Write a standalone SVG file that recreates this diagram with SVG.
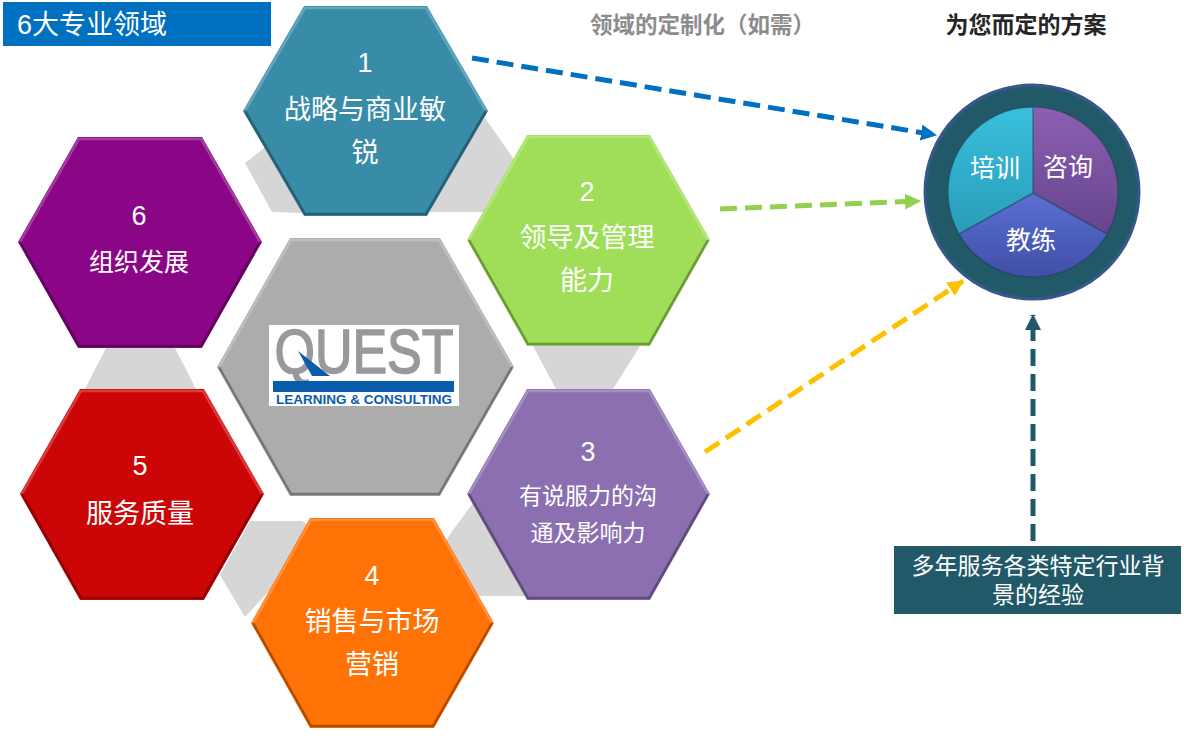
<svg xmlns="http://www.w3.org/2000/svg" width="1184" height="736" viewBox="0 0 1184 736">
<style>
text{font-family:"Liberation Sans","Noto Sans CJK SC",sans-serif;fill:#fff;text-anchor:middle}
.n{font-size:27px}.l{font-size:27px}.m{font-size:23px}.s{font-size:25px}
.hi{fill:none;stroke:#fff;stroke-opacity:.22;stroke-width:2.5;filter:url(#soft)}
.lo{fill:none;stroke:#000;stroke-opacity:.32;stroke-width:2.5;filter:url(#soft)}
.gray{fill:#d6d6d6}
.dash{fill:none;stroke-width:5;stroke-dasharray:17 8}
</style>
<defs>
<filter id="soft" x="-5%" y="-5%" width="110%" height="110%"><feGaussianBlur stdDeviation="0.7"/></filter>
<linearGradient id="gc" x1="0" y1="0" x2="0" y2="1"><stop offset="0" stop-color="#38c0de"/><stop offset="1" stop-color="#2a9cb8"/></linearGradient>
<linearGradient id="gp" x1="0" y1="0" x2="0" y2="1"><stop offset="0" stop-color="#8c60b2"/><stop offset="1" stop-color="#66448c"/></linearGradient>
<linearGradient id="gb" x1="0" y1="0" x2="0" y2="1"><stop offset="0" stop-color="#5a70d4"/><stop offset="1" stop-color="#404ea6"/></linearGradient>
<marker id="ab" markerUnits="userSpaceOnUse" markerWidth="16" markerHeight="16" refX="15" refY="8" orient="auto"><path d="M0 0L16 8L0 16Z" fill="#0070c0"/></marker>
<marker id="ag" markerUnits="userSpaceOnUse" markerWidth="16" markerHeight="16" refX="15" refY="8" orient="auto"><path d="M0 0L16 8L0 16Z" fill="#92d050"/></marker>
<marker id="ay" markerUnits="userSpaceOnUse" markerWidth="16" markerHeight="16" refX="15" refY="8" orient="auto"><path d="M0 0L16 8L0 16Z" fill="#ffc000"/></marker>
<marker id="at" markerUnits="userSpaceOnUse" markerWidth="16" markerHeight="16" refX="15" refY="8" orient="auto"><path d="M0 0L16 8L0 16Z" fill="#215968"/></marker>
</defs>
<rect width="1184" height="736" fill="#fff"/>
<g id="links-gray">
<polygon class="gray" points="245,163 272,212 330,214 300,120"/>
<polygon class="gray" points="485,118 518,165 490,212 430,212 430,150"/>
<polygon class="gray" points="533,346 640,346 613,389 556,389"/>
<polygon class="gray" points="106,348 175,348 196,389 85,389"/>
<polygon class="gray" points="250,521 302,521 320,535 245,617 220,575"/>
<polygon class="gray" points="448,537 473,503 525,596 470,596 440,560"/>
</g>
<g id="title"><rect x="3" y="2" width="268" height="44" fill="#0070c0"/><text x="92" y="34" style="font-size:27px">6大专业领域</text></g>
<g id="hex-1"><polygon points="304,6 427,6 488,111 427,216 304,216 243,111" fill="#388ca8"/><polyline class="hi" points="245,111 305,8 426,8 486,111"/><polyline class="lo" points="245,111 305,214 426,214 486,111"/><text class="n" x="365" y="72">1</text><text class="l" x="365" y="119">战略与商业敏</text><text class="l" x="365" y="162">锐</text></g>
<g id="hex-2"><polygon points="527,135 650,135 710,240 650,346 527,346 467,240" fill="#a0de5a"/><polyline class="hi" points="469,240 528,137 649,137 708,240"/><polyline class="lo" points="469,240 528,344 649,344 708,240"/><text class="n" x="587" y="201">2</text><text class="l" x="587" y="247">领导及管理</text><text class="l" x="587" y="290">能力</text></g>
<g id="hex-3"><polygon points="527,389 650,389 710,494 650,600 527,600 467,494" fill="#8b6fb0"/><polyline class="hi" points="469,494 528,391 649,391 708,494"/><polyline class="lo" points="469,494 528,598 649,598 708,494"/><text class="n" x="588" y="461">3</text><text class="m" x="588" y="504">有说服力的沟</text><text class="m" x="588" y="541">通及影响力</text></g>
<g id="hex-4"><polygon points="310,518 434,518 494,623 434,728 310,728 251,623" fill="#ff7206"/><polyline class="hi" points="253,623 311,520 433,520 492,623"/><polyline class="lo" points="253,623 311,726 433,726 492,623"/><text class="n" x="372" y="585">4</text><text class="l" x="372" y="631">销售与市场</text><text class="l" x="372" y="674">营销</text></g>
<g id="hex-5"><polygon points="80,389 204,389 264,494 204,600 80,600 20,494" fill="#cc0606"/><polyline class="hi" points="22,494 81,391 203,391 262,494"/><polyline class="lo" points="22,494 81,598 203,598 262,494"/><text class="n" x="140" y="475">5</text><text class="l" x="140" y="523">服务质量</text></g>
<g id="hex-6"><polygon points="78,137 202,137 262,242 202,348 78,348 18,242" fill="#8a0686"/><polyline class="hi" points="20,242 79,139 201,139 260,242"/><polyline class="lo" points="20,242 79,346 201,346 260,242"/><text class="n" x="139" y="225">6</text><text class="s" x="139" y="271">组织发展</text></g>
<g id="hex-center"><polygon points="290,238 440,238 514,367 440,496 290,496 217,367" fill="#acacac"/><polyline class="hi" points="219,367 291,240 439,240 512,367"/><polyline class="lo" points="219,367 291,494 439,494 512,367"/>
<rect x="269" y="325" width="190" height="81" fill="#fff"/>
<text x="364" y="373" textLength="179" lengthAdjust="spacingAndGlyphs" style="font-size:63px;fill:#97999c;stroke:#97999c;stroke-width:1.6">QUEST</text>
<polygon points="298,351 330,376 312,376" fill="#0a5cad"/>
<rect x="273" y="381" width="181" height="11" fill="#0a5cad"/>
<text x="364" y="404" textLength="176" lengthAdjust="spacingAndGlyphs" style="font-size:13px;font-weight:bold;fill:#0a5cad">LEARNING &amp; CONSULTING</text></g>
<g id="connectors">
<line class="dash" x1="472" y1="58" x2="936" y2="135" stroke="#0070c0" marker-end="url(#ab)"/>
<line class="dash" x1="720" y1="209" x2="920" y2="201" stroke="#92d050" marker-end="url(#ag)"/>
<line class="dash" x1="705" y1="452" x2="963" y2="281" stroke="#ffc000" marker-end="url(#ay)"/>
<line class="dash" x1="1033" y1="541" x2="1033" y2="315" stroke="#215968" marker-end="url(#at)"/>
</g>
<g id="heading-1"><text x="590" y="33" style="font-size:22.5px;font-weight:bold;fill:#8c8c8c;text-anchor:start">领域的定制化（如需）</text></g>
<g id="heading-2"><text x="1026" y="33" style="font-size:23px;font-weight:bold;fill:#262626">为您而定的方案</text></g>
<g id="solution">
<circle cx="1032" cy="192" r="107" fill="#215968" stroke="#37588c" stroke-width="3"/>
<path d="M1033 193L959 234A85 85 0 0 1 1033 107Z" fill="url(#gc)"/>
<path d="M1033 193V107A85 85 0 0 1 1107 234Z" fill="url(#gp)"/>
<path d="M1033 193L1107 234A85 85 0 0 1 959 234Z" fill="url(#gb)"/>
<path d="M959 234A85 85 0 0 1 1033 107V193ZM1033 107A85 85 0 0 1 1107 234L1033 193ZM959 234L1033 193L1107 234A85 85 0 0 1 959 234Z" fill="none" stroke="#1c4050" stroke-opacity=".5" stroke-width="1.5"/>
<text class="s" x="995" y="177">培训</text><text class="s" x="1068" y="176">咨询</text><text class="s" x="1031" y="249">教练</text>
</g>
<g id="experience"><rect x="894" y="546" width="287" height="68" fill="#215968"/><text class="m" x="1038" y="574">多年服务各类特定行业背</text><text class="m" x="1038" y="603">景的经验</text></g>
</svg>
